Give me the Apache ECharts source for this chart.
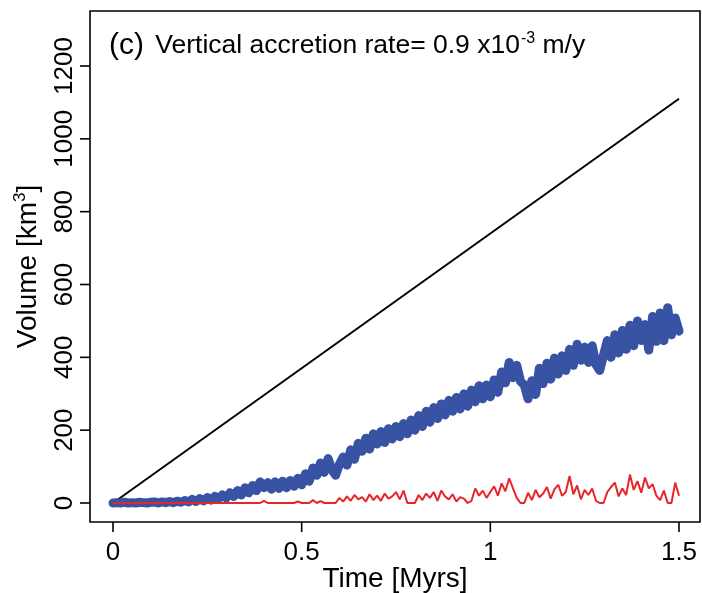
<!DOCTYPE html>
<html lang="en">

<head>
    <meta charset="UTF-8">
    <title>Volume vs time (c)</title>
    <script src="https://cdn.jsdelivr.net/npm/echarts@6.0.0/dist/echarts.min.js"></script>
    <style>
        html, body { margin: 0; padding: 0; background: #fff; }
        #chart { width: 702px; height: 593px; }
    </style>
</head>

<body>
    <div id="chart"></div>
    <script>
        // sampling step of the model output (Myrs)
        var step = 0.01;

        var xTicks = [0, 0.5, 1, 1.5];
        var yTicks = [0, 200, 400, 600, 800, 1000, 1200];

        // black reference line (total accommodation)
        var lineTimes = [0, 1.5];
        var lineValues = [0, 1110];

        // blue: stored volume, one value every 0.01 Myrs from 0 to 1.5
        var blueValues = [
            0, 1, 0, 2, 0, 1, 0, 2, 1, 0, 2,
            3, 0, 3, 1, 4, 1, 5, 2, 7, 3,
            10, 4, 12, 6, 15, 8, 18, 12, 22, 14,
            28, 18, 34, 22, 42, 28, 48, 34, 58, 42,
            56, 38, 58, 40, 60, 42, 62, 46, 68, 50,
            80, 60, 96, 76, 110, 84, 122, 92, 76, 106,
            126, 104, 146, 120, 164, 142, 178, 148, 190, 162,
            196, 166, 204, 176, 210, 182, 218, 190, 228, 200,
            240, 210, 252, 222, 262, 232, 272, 242, 282, 252,
            290, 258, 300, 266, 310, 278, 322, 286, 324, 292,
            338, 304, 360, 330, 386, 344, 378, 334, 324, 286,
            336, 298, 370, 328, 384, 340, 398, 354, 404, 364,
            422, 378, 436, 392, 428, 386, 432, 380, 364, 406,
            446, 400, 462, 412, 474, 422, 488, 432, 500, 446,
            490, 420, 512, 444, 522, 446, 536, 462, 508, 472
        ];

        // red: eroded volume, same sampling
        var redValues = [
            0, 0, 0, 0, 0, 0, 0, 0, 0, 0,
            0, 0, 0, 0, 0, 0, 0, 0, 0, 0,
            0, 0, 0, 0, 0, 0, 0, 0, 0, 0,
            0, 0, 0, 0, 0, 0, 0, 0, 0, 0,
            6, 0, 0, 0, 0, 0, 0, 0, 0, 4,
            0, 0, 0, 8, 0, 5, 0, 0, 0, 0,
            14, 4, 18, 6, 22, 10, 16, 4, 24, 8,
            20, 6, 26, 12, 18, 30, 10, 34, 0, 0,
            0, 22, 8, 26, 14, 30, 6, 34, 18, 10,
            24, 4, 16, 12, 0, 6, 40, 20, 34, 14,
            30, 46, 20, 54, 32, 68, 40, 14, 0, 0,
            28, 8, 36, 16, 26, 44, 12, 38, 50, 20,
            30, 74, 24, 48, 10, 36, 22, 40, 6, 0,
            0, 30, 44, 56, 18, 40, 22, 78, 36, 60,
            28, 70, 40, 52, 20, 8, 34, 0, 0, 56,
            20
        ];

        function pairs(values) {
            return values.map(function (v, i) {
                return [+(i * step).toFixed(2), v];
            });
        }

        var font = 'Liberation Sans, Arial, Helvetica, sans-serif';
        var off = { show: false };
        // distance from the data range to the box edges (px), and tick length
        var xAxisOffset = 19, yAxisOffset = 23, tickLen = 10;

        // R style: the box (grid 0) is wider than the data range (grid 1)
        var myChart = echarts.init(document.getElementById('chart'), null, { renderer: 'canvas' });
        var option = {
            animation: false,
            backgroundColor: '#fff',
            title: {
                left: 104,
                top: 24,
                text: '{p|(c)}{t| Vertical accretion rate= 0.9 x10}{s|-3}{t| m/y}',
                textStyle: {
                    fontWeight: 'normal',
                    rich: {
                        p: { fontFamily: font, fontWeight: 'normal', fontSize: 30, color: '#000', lineHeight: 34, padding: [0, 4, 0, 0] },
                        t: { fontFamily: font, fontWeight: 'normal', fontSize: 26.5, color: '#000', lineHeight: 34 },
                        s: { fontFamily: font, fontWeight: 'normal', fontSize: 16, color: '#000', lineHeight: 34, verticalAlign: 'top', padding: [2, 0, 0, 1] }
                    }
                }
            },
            grid: [
                { left: 90, right: 2, top: 11, bottom: 71, show: true, borderColor: '#000', borderWidth: 1.6, outerBoundsMode: 'none' },
                { left: 113, right: 23, top: 66, bottom: 90, outerBoundsMode: 'none' }
            ],
            xAxis: [
                {
                    gridIndex: 0, type: 'value', min: 0, max: 1,
                    name: 'Time [Myrs]',
                    nameLocation: 'middle',
                    nameGap: 43,
                    nameTextStyle: { fontFamily: font, fontSize: 28, color: '#000' },
                    axisLine: off, axisTick: off, axisLabel: off, splitLine: off
                },
                {
                    gridIndex: 1, type: 'value', min: 0, max: 1.5, interval: 0.5,
                    offset: xAxisOffset,
                    axisLine: { show: false, onZero: false },
                    axisTick: off,
                    axisLabel: { fontFamily: font, fontSize: 26, color: '#000', margin: 18 },
                    splitLine: off
                }
            ],
            yAxis: [
                {
                    gridIndex: 0, type: 'value', min: 0, max: 1,
                    name: '{a|Volume [km}{s|3}{a|]}',
                    nameLocation: 'middle',
                    nameRotate: 90,
                    nameGap: 46,
                    nameTextStyle: {
                        rich: {
                            a: { fontFamily: font, fontSize: 28, color: '#000', lineHeight: 32 },
                            s: { fontFamily: font, fontSize: 17, color: '#000', lineHeight: 32, verticalAlign: 'top' }
                        }
                    },
                    axisLine: off, axisTick: off, axisLabel: off, splitLine: off
                },
                {
                    gridIndex: 1, type: 'value', min: 0, max: 1200, interval: 200,
                    offset: yAxisOffset,
                    axisLine: { show: false, onZero: false },
                    axisTick: off,
                    axisLabel: {
                        rotate: 90,
                        fontFamily: font,
                        fontSize: 26,
                        color: '#000',
                        margin: 12,
                        formatter: function (v) { return String(v); }
                    },
                    splitLine: off
                }
            ],
            series: [
                {
                    name: 'reference',
                    type: 'line',
                    xAxisIndex: 1, yAxisIndex: 1,
                    symbol: 'none',
                    silent: true,
                    clip: false,
                    lineStyle: { color: '#000', width: 2 },
                    data: lineTimes.map(function (t, i) { return [t, lineValues[i]]; })
                },
                {
                    name: 'stored',
                    type: 'line',
                    xAxisIndex: 1, yAxisIndex: 1,
                    symbol: 'none',
                    silent: true,
                    clip: false,
                    lineStyle: { color: '#3953a4', width: 9, join: 'round', cap: 'round' },
                    data: pairs(blueValues)
                },
                {
                    name: 'eroded',
                    type: 'line',
                    xAxisIndex: 1, yAxisIndex: 1,
                    symbol: 'none',
                    silent: true,
                    clip: false,
                    lineStyle: { color: '#e8262a', width: 2 },
                    data: pairs(redValues)
                }
            ]
        };
        myChart.setOption(option);

        // tick marks just outside the box, positioned through the data axes
        var tickLines = [];
        var pick = { xAxisIndex: 1, yAxisIndex: 1 };
        xTicks.forEach(function (t) {
            var p = myChart.convertToPixel(pick, [t, 0]);
            tickLines.push({
                type: 'line', z: 100, silent: true,
                shape: { x1: p[0], y1: p[1] + xAxisOffset, x2: p[0], y2: p[1] + xAxisOffset + tickLen },
                style: { stroke: '#000', lineWidth: 1.6 }
            });
        });
        yTicks.forEach(function (v) {
            var p = myChart.convertToPixel(pick, [0, v]);
            tickLines.push({
                type: 'line', z: 100, silent: true,
                shape: { x1: p[0] - yAxisOffset, y1: p[1], x2: p[0] - yAxisOffset - tickLen, y2: p[1] },
                style: { stroke: '#000', lineWidth: 1.6 }
            });
        });
        myChart.setOption({ graphic: tickLines });
    </script>
</body>

</html>
